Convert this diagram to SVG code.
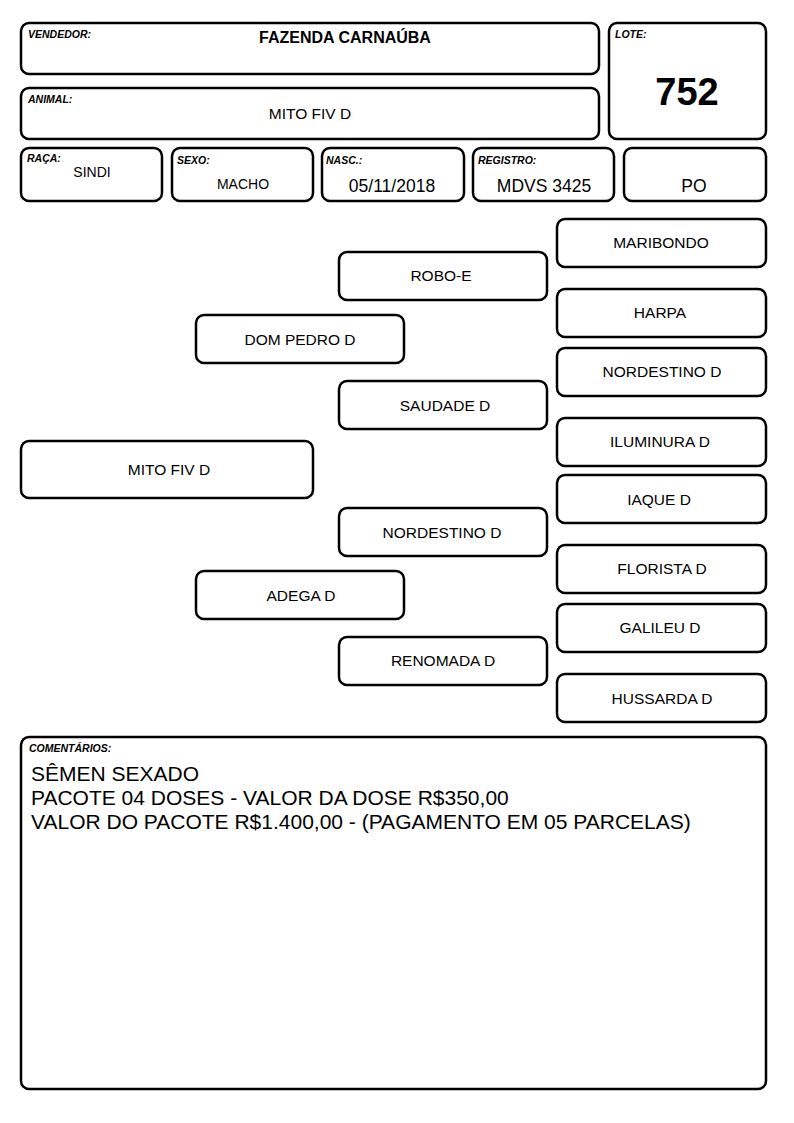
<svg xmlns="http://www.w3.org/2000/svg" width="794" height="1123" viewBox="0 0 794 1123">
<style>
.b{fill:#fff;stroke:#000;stroke-width:2.5}
.l{font-family:"Liberation Sans",Arial,sans-serif;font-size:10.5px;font-weight:bold;font-style:italic}
.t{font-family:"Liberation Sans",Arial,sans-serif;font-size:15.5px;text-anchor:middle}
.c{font-family:"Liberation Sans",Arial,sans-serif;font-size:21px}
</style>
<rect width="794" height="1123" fill="#fff"/>
<g id="vendedor"><rect class="b" x="21" y="23" width="578" height="51" rx="8"/><text class="l" x="28" y="38">VENDEDOR:</text><text class="t" x="345" y="43" style="font-size:16px;font-weight:bold">FAZENDA CARNAÚBA</text></g>
<g id="animal"><rect class="b" x="21" y="88" width="578" height="51" rx="8"/><text class="l" x="28" y="103">ANIMAL:</text><text class="t" x="310" y="119">MITO FIV D</text></g>
<g id="lote"><rect class="b" x="609" y="23" width="157" height="116" rx="8"/><text class="l" x="615" y="38">LOTE:</text><text class="t" x="687" y="105" style="font-size:38px;font-weight:bold">752</text></g>
<g id="raca"><rect class="b" x="21" y="148" width="141" height="53" rx="8"/><text class="l" x="27" y="162">RAÇA:</text><text class="t" x="92" y="177" style="font-size:14px">SINDI</text></g>
<g id="sexo"><rect class="b" x="172" y="148" width="141" height="53" rx="8"/><text class="l" x="177" y="164">SEXO:</text><text class="t" x="243" y="189" style="font-size:14px">MACHO</text></g>
<g id="nasc"><rect class="b" x="322" y="148" width="142" height="53" rx="8"/><text class="l" x="326" y="164">NASC.:</text><text class="t" x="392" y="192" style="font-size:17.5px">05/11/2018</text></g>
<g id="registro"><rect class="b" x="473" y="148" width="141" height="53" rx="8"/><text class="l" x="478" y="164">REGISTRO:</text><text class="t" x="544" y="192" style="font-size:17.5px">MDVS 3425</text></g>
<g id="po"><rect class="b" x="624" y="148" width="142" height="53" rx="8"/><text class="t" x="694" y="192" style="font-size:17.5px">PO</text></g>
<g id="connectors"></g>
<g id="maribondo"><rect class="b" x="557" y="219" width="209" height="48" rx="8"/><text class="t" x="661" y="248">MARIBONDO</text></g>
<g id="robo-e"><rect class="b" x="339" y="252" width="208" height="48" rx="8"/><text class="t" x="441" y="281">ROBO-E</text></g>
<g id="harpa"><rect class="b" x="557" y="289" width="209" height="48" rx="8"/><text class="t" x="660" y="318">HARPA</text></g>
<g id="dom-pedro-d"><rect class="b" x="196" y="315" width="208" height="48" rx="8"/><text class="t" x="300" y="345">DOM PEDRO D</text></g>
<g id="nordestino-d-1"><rect class="b" x="557" y="348" width="209" height="48" rx="8"/><text class="t" x="662" y="377">NORDESTINO D</text></g>
<g id="saudade-d"><rect class="b" x="339" y="381" width="208" height="48" rx="8"/><text class="t" x="445" y="411">SAUDADE D</text></g>
<g id="iluminura-d"><rect class="b" x="557" y="418" width="209" height="48" rx="8"/><text class="t" x="660" y="447">ILUMINURA D</text></g>
<g id="mito-fiv-d"><rect class="b" x="21" y="441" width="292" height="57" rx="8"/><text class="t" x="169" y="475">MITO FIV D</text></g>
<g id="iaque-d"><rect class="b" x="557" y="475" width="209" height="48" rx="8"/><text class="t" x="659" y="505">IAQUE D</text></g>
<g id="nordestino-d-2"><rect class="b" x="339" y="508" width="208" height="48" rx="8"/><text class="t" x="442" y="538">NORDESTINO D</text></g>
<g id="florista-d"><rect class="b" x="557" y="545" width="209" height="48" rx="8"/><text class="t" x="662" y="574">FLORISTA D</text></g>
<g id="adega-d"><rect class="b" x="196" y="571" width="208" height="48" rx="8"/><text class="t" x="301" y="601">ADEGA D</text></g>
<g id="galileu-d"><rect class="b" x="557" y="604" width="209" height="48" rx="8"/><text class="t" x="660" y="633">GALILEU D</text></g>
<g id="renomada-d"><rect class="b" x="339" y="637" width="208" height="48" rx="8"/><text class="t" x="443" y="666">RENOMADA D</text></g>
<g id="hussarda-d"><rect class="b" x="557" y="674" width="209" height="48" rx="8"/><text class="t" x="662" y="704">HUSSARDA D</text></g>
<g id="comentarios"><rect class="b" x="21" y="737" width="745" height="352" rx="8"/><text class="l" x="29" y="752">COMENTÁRIOS:</text>
<text class="c" x="31" y="781">SÊMEN SEXADO</text>
<text class="c" x="31" y="805">PACOTE 04 DOSES - VALOR DA DOSE R$350,00</text>
<text class="c" x="31" y="829">VALOR DO PACOTE R$1.400,00 - (PAGAMENTO EM 05 PARCELAS)</text></g>
</svg>
